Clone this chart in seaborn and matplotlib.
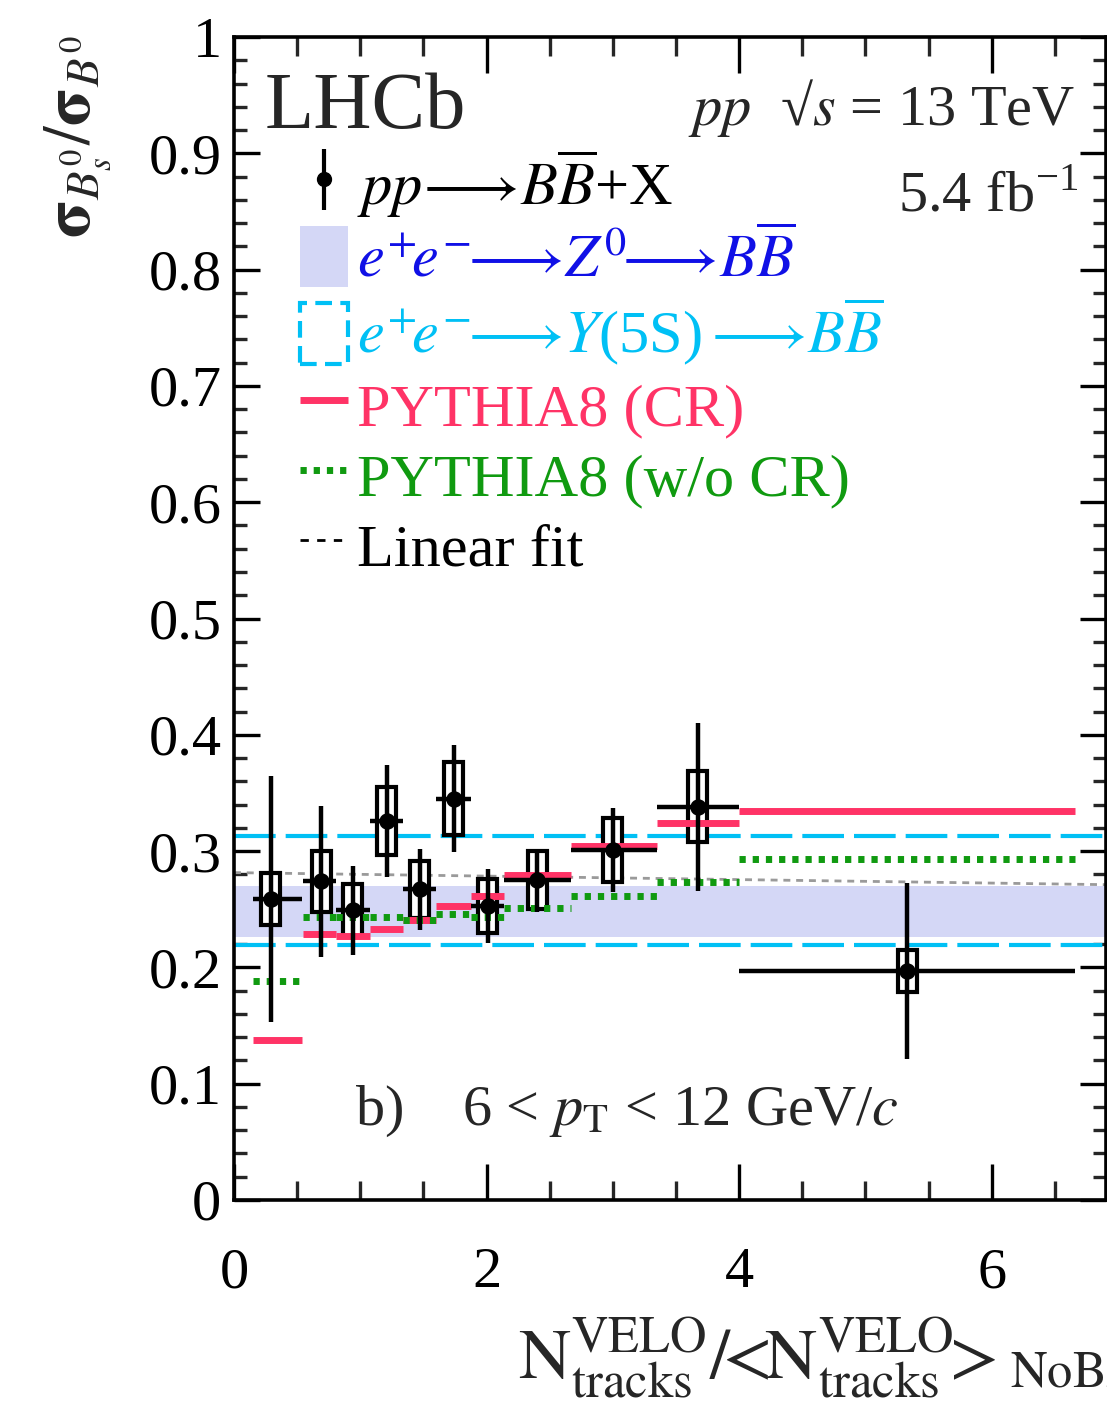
import numpy as np
import matplotlib
matplotlib.use("Agg")
import matplotlib.pyplot as plt
import seaborn as sns
from matplotlib.patches import Rectangle, Patch
from matplotlib.lines import Line2D
from matplotlib.ticker import MultipleLocator, FixedLocator

# ---------------- data ----------------
bin_lo = [0.15, 0.55, 0.81, 1.08, 1.34, 1.60, 1.88, 2.14, 2.67, 3.35, 4.00]
bin_hi = [0.54, 0.81, 1.08, 1.34, 1.60, 1.88, 2.14, 2.67, 3.35, 4.00, 6.66]
x_mean = [0.29, 0.69, 0.94, 1.21, 1.47, 1.74, 2.01, 2.40, 3.00, 3.67, 5.33]
ratio = [0.259, 0.274, 0.249, 0.326, 0.267, 0.345, 0.253, 0.275, 0.301, 0.338, 0.197]
stat_err = [0.106, 0.065, 0.038, 0.048, 0.035, 0.046, 0.032, 0.027, 0.036, 0.072, 0.076]
syst_err = [0.0225, 0.026, 0.0225, 0.029, 0.0245, 0.0315, 0.023, 0.025, 0.0275, 0.0305, 0.018]
pythia_cr = [0.138, 0.229, 0.227, 0.233, 0.241, 0.253, 0.261, 0.2795, 0.3047, 0.324, 0.3345]
pythia_nocr = [0.188, 0.2436, 0.2436, 0.243, 0.241, 0.246, 0.2436, 0.2508, 0.261, 0.2737, 0.293]
z0_band = [0.226, 0.270]
y5s_band = [0.219, 0.313]
fit_intercept = 0.2815
fit_slope = -0.0015
x_major = [0, 2, 4, 6]
y_major = [0, 0.1, 0.2, 0.3, 0.4, 0.5, 0.6, 0.7, 0.8, 0.9, 1.0]
y_labels = ["0", "0.1", "0.2", "0.3", "0.4", "0.5", "0.6", "0.7", "0.8", "0.9", "1"]
x_labels = ["0", "2", "4", "6"]

legend_labels = [
    r"$pp\!\longrightarrow\! B\overline{B}$+X",
    r"$e^{+}\!e^{-}\!\!\longrightarrow\! Z^{0}\!\!\longrightarrow\! B\overline{B}$",
    r"$e^{+}\!e^{-}\!\!\longrightarrow\! Y$(5S)$\longrightarrow\! B\overline{B}$",
    "PYTHIA8 (CR)",
    "PYTHIA8 (w/o CR)",
    "Linear fit",
]

# ---------------- style ----------------
RED = "#FF3366"
GREEN = "#109A10"
CYAN = "#00C0F5"
BAND = "#D4D7F6"
BLUE = "#1010E6"

sns.set_theme(style="ticks")
plt.rcParams["font.family"] = ["Liberation Serif", "DejaVu Serif"]
plt.rcParams["mathtext.fontset"] = "stix"

W, H = 1107, 1412
fig = plt.figure(figsize=(W / 100, H / 100), dpi=100)
ax = fig.add_axes([234 / W, 212 / H, 872 / W, 1163 / H])
ax.set_xlim(0, 872 / 126.3)
ax.set_ylim(0, 1)

# Z0 band
ax.axhspan(z0_band[0], z0_band[1], color=BAND, lw=0, zorder=1)
# Y(5S) band edges
for yv in y5s_band:
    ax.axhline(yv, color=CYAN, lw=3, dashes=(10, 2.4), zorder=2)
# linear fit
xf = np.array(ax.get_xlim())
ax.plot(xf, fit_intercept + fit_slope * xf, color="#9a9a9a", lw=2, dashes=(2.5, 2.1), zorder=2)

# systematic boxes
for xm, yv, s in zip(x_mean, ratio, syst_err):
    ax.add_patch(Rectangle((xm - 0.075, yv - s), 0.15, 2 * s, fc="white", ec="black", lw=3, zorder=3))

# PYTHIA predictions
for lo, hi, v in zip(bin_lo, bin_hi, pythia_cr):
    ax.plot([lo, hi], [v, v], color=RED, lw=5, solid_capstyle="butt", zorder=4)
for lo, hi, v in zip(bin_lo, bin_hi, pythia_nocr):
    ax.plot([lo, hi], [v, v], color=GREEN, lw=5, linestyle=(0, (0.9, 1.0)),
            dash_capstyle="butt", zorder=4)

# data
xl = [m - lo for m, lo in zip(x_mean, bin_lo)]
xh = [hi - m for m, hi in zip(x_mean, bin_hi)]
ax.errorbar(x_mean, ratio, yerr=stat_err, xerr=[xl, xh], fmt="none", ecolor="black",
            elinewidth=3.2, capsize=0, zorder=6)
sns.scatterplot(x=x_mean, y=ratio, color="black", s=140, linewidth=0, zorder=7, ax=ax)

# ticks
ax.xaxis.set_major_locator(FixedLocator(x_major))
ax.set_xticklabels(x_labels)
ax.xaxis.set_minor_locator(MultipleLocator(0.5))
ax.yaxis.set_major_locator(FixedLocator(y_major))
ax.set_yticklabels(y_labels)
ax.yaxis.set_minor_locator(MultipleLocator(0.02))
ax.tick_params(axis="x", which="major", direction="in", length=26, width=2.4,
               top=True, bottom=True, labelsize=42, pad=34, colors="black")
ax.tick_params(axis="x", which="minor", direction="in", length=13.7, width=2.4,
               top=True, bottom=True)
ax.tick_params(axis="y", which="major", direction="in", length=18.7, width=2.4,
               left=True, right=True, labelsize=42, pad=9, colors="black")
ax.tick_params(axis="y", which="minor", direction="in", length=9.4, width=2.4,
               left=True, right=True)
for sp in ax.spines.values():
    sp.set_linewidth(2.6)
    sp.set_color("black")

# legend
h_data = ax.errorbar([np.nan], [np.nan], yerr=[0.1], fmt="o", color="black", ms=10,
                     elinewidth=3, capsize=0)
handles = [
    h_data,
    Patch(facecolor=BAND, edgecolor="none"),
    Patch(facecolor="none", edgecolor=CYAN, linestyle=(0, (4, 2)), lw=3),
    Line2D([], [], color=RED, lw=5, solid_capstyle="butt"),
    Line2D([], [], color=GREEN, lw=5, linestyle=(0, (0.9, 1.0)), dash_capstyle="butt"),
    Line2D([], [], color="black", lw=2, linestyle=(0, (3, 3))),
]
leg = ax.legend(handles, legend_labels, loc="upper left",
                bbox_to_anchor=((300 - 234) / 872, (1200 - 147) / 1163),
                frameon=False, fontsize=43.5, handlelength=0.8, handleheight=1.18,
                handletextpad=0.15, labelspacing=0.1, borderpad=0, borderaxespad=0,
                labelcolor=["black", BLUE, CYAN, RED, GREEN, "black"])

# texts
fig.text(265 / W, 1 - 128 / H, "LHCb", fontsize=58, va="baseline", ha="left")
fig.text(688 / W, 1 - 125 / H, "$pp$  \u221a$s$ = 13 TeV", fontsize=42, va="baseline")
fig.text(898 / W, 1 - 212 / H, r"5.4 fb$^{\mathregular{-1}}$", fontsize=42, va="baseline")
fig.text(355 / W, 1 - 1125 / H, r"b)    6 < $p_{\mathrm{T}}$ < 12 GeV/$c$", fontsize=42,
         va="baseline")
fig.text(78 / W, 1 - 35 / H, r"$\mathbf{\sigma}_{B_s^0}/\mathbf{\sigma}_{B^0}$",
         rotation=90, ha="center", va="top", fontsize=48)
fig.text(518 / W, 1 - 1378 / H,
         r"$\mathrm{N}^{\mathrm{VELO}}_{\mathrm{tracks}}/\!\!<\!\!\mathrm{N}^{\mathrm{VELO}}_{\mathrm{tracks}}\!\!>_{\mathrm{NoBias}}$",
         fontsize=52, va="baseline", ha="left")

fig.savefig("out.png", dpi=100)
